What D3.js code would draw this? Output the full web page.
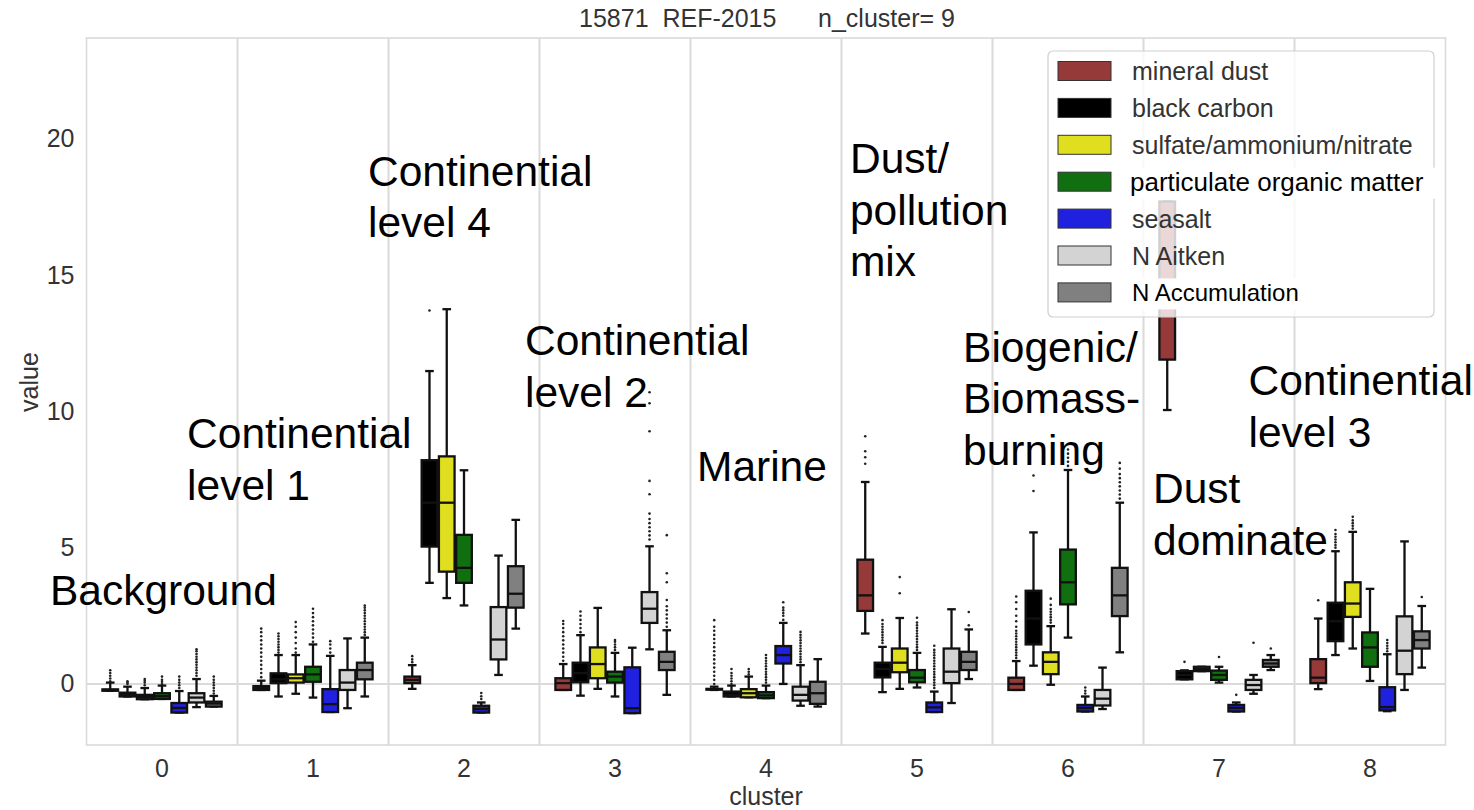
<!DOCTYPE html>
<html><head><meta charset="utf-8">
<script src="https://cdn.jsdelivr.net/npm/d3@7"></script>
<style>
html,body{margin:0;padding:0;background:#fff;}
svg{display:block;font-family:"Liberation Sans",Arial,sans-serif;}
</style></head><body>
<svg id="chart" width="1474" height="810"></svg>
<script>
// ---------------- DATA ----------------
const clusters = ["0","1","2","3","4","5","6","7","8"];
const variables = ["mineral dust","black carbon","sulfate/ammonium/nitrate","particulate organic matter","seasalt","N Aitken","N Accumulation"];
const colors = ["#963939","#000000","#dfdf20","#107010","#2020df","#d3d3d3","#808080"];
const yTicks = [0,5,10,15,20];
const titleText = "15871  REF-2015      n_cluster= 9";

// box stats per cluster: [lower whisker, q1, median, q3, upper whisker]
const mineralDust = [[-0.25,-0.25,-0.22,-0.2,0.05],[-0.22,-0.22,-0.15,-0.08,0.12],[-0.18,0.03,0.15,0.27,0.69],[-0.22,-0.22,0.03,0.21,0.73],[-0.22,-0.21,-0.19,-0.18,-0.1],[1.85,2.68,3.25,4.56,7.41],[-0.22,-0.22,0.0,0.23,0.84],[10.05,11.9,14.2,17.7,17.7],[-0.19,0.03,0.23,0.91,2.4]];
const blackCarbon = [[-0.46,-0.46,-0.4,-0.32,-0.1],[-0.46,0.03,0.17,0.39,1.06],[3.71,5.04,6.65,8.21,11.48],[-0.43,0.06,0.4,0.78,1.79],[-0.46,-0.46,-0.4,-0.28,-0.06],[-0.3,0.24,0.55,0.78,1.36],[0.67,1.45,2.4,3.42,5.56],[0.17,0.17,0.33,0.47,0.5],[1.06,1.57,2.3,2.98,4.87]];
const sulfate = [[-0.56,-0.56,-0.48,-0.4,-0.15],[-0.36,0.05,0.21,0.35,1.06],[3.15,4.12,6.65,8.35,13.75],[-0.18,0.21,0.73,1.34,2.79],[-0.49,-0.49,-0.34,-0.19,0.27],[-0.18,0.43,0.78,1.3,2.42],[-0.03,0.36,0.81,1.16,2.12],[0.47,0.47,0.55,0.63,0.63],[1.3,2.46,2.95,3.73,5.58]];
const organic = [[-0.55,-0.55,-0.45,-0.34,-0.06],[-0.5,0.08,0.35,0.63,1.45],[2.88,3.71,4.26,5.47,7.84],[-0.46,0.05,0.27,0.45,1.14],[-0.52,-0.52,-0.42,-0.3,-0.06],[-0.13,0.06,0.23,0.51,1.14],[1.7,2.92,3.73,4.93,7.85],[0.05,0.15,0.33,0.49,0.63],[0.11,0.63,1.34,1.89,3.49]];
const seasalt = [[-1.05,-1.05,-0.88,-0.7,-0.26],[-1.03,-1.03,-0.74,-0.19,1.03],[-1.05,-1.05,-0.92,-0.8,-0.68],[-1.07,-1.07,-0.89,0.61,1.33],[0.0,0.75,1.06,1.39,2.24],[-1.03,-1.03,-0.86,-0.68,-0.28],[-1.01,-1.01,-0.88,-0.77,-0.46],[-1.01,-1.01,-0.88,-0.77,-0.68],[-1.0,-0.97,-0.85,-0.12,1.09]];
const nAitken = [[-0.85,-0.68,-0.5,-0.34,0.18],[-0.89,-0.22,0.05,0.51,1.67],[0.33,0.9,1.63,2.82,4.71],[1.27,2.24,2.76,3.37,5.05],[-0.8,-0.61,-0.4,-0.1,0.69],[-0.7,0.03,0.45,1.3,2.74],[-0.92,-0.79,-0.54,-0.22,0.6],[-0.36,-0.22,-0.04,0.15,0.33],[-0.22,0.36,1.22,2.48,5.23]];
const nAccum = [[-0.83,-0.83,-0.72,-0.65,-0.44],[-0.46,0.17,0.51,0.78,1.7],[2.03,2.8,3.31,4.32,6.02],[-0.4,0.51,0.81,1.18,1.97],[-0.83,-0.73,-0.34,0.08,0.91],[0.18,0.51,0.81,1.18,2.0],[1.16,2.49,3.25,4.26,6.65],[0.51,0.63,0.75,0.88,1.06],[0.6,1.3,1.61,1.93,2.86]];

// outliers per cluster
const mineralDustOut = [[0.1,0.2,0.3,0.4,0.5],[0.25,0.4,0.55,0.7,0.85,1.0,1.15,1.3,1.45,1.6,1.75,1.9,2.03],[0.8,0.9,1.02],[0.85,1.0,1.15,1.3,1.45,1.6,1.75,1.9,2.05,2.2,2.31],[0.0,0.15,0.3,0.45,0.6,0.75,0.9,1.05,1.2,1.35,1.5,1.65,1.8,1.95,2.1,2.34],[8.08,8.32,8.54,9.09],[0.95,1.05,1.15,1.25,1.35,1.45,1.55,1.65,1.75,1.85,1.95,2.1,2.3,2.5,2.75,3.0,3.21],[],[3.07]];
const blackCarbonOut = [[0.0,0.05,0.1],[1.15,1.25,1.35,1.45,1.55,1.65,1.75,1.85],[13.7],[1.9,2.05,2.2,2.35,2.5,2.66],[0.0,0.1,0.2,0.3,0.4,0.55],[1.5,1.6,1.7,1.8,1.9,2.0,2.1,2.2,2.34],[7.08,7.65],[0.81],[5.0,5.1,5.2,5.3,5.4,5.5,5.65]];
const sulfateOut = [[-0.05,0.05,0.12,0.18],[1.15,1.3,1.5,1.7,1.9,2.1,2.27],[],[],[0.35,0.45,0.55],[3.33,3.92],[2.25,2.35,2.45,2.55,2.65,2.75,2.9,3.13],[],[5.7,5.8,5.9,6.0,6.13]];
const organicOut = [[0.0,0.08,0.15,0.27],[1.55,1.7,1.85,2.0,2.15,2.3,2.45,2.6,2.76],[],[1.25,1.35,1.45,1.55,1.61],[0.05,0.15,0.25,0.35,0.45,0.55,0.65,0.75,0.85,0.95,1.06],[1.25,1.35,1.45,1.55,1.65,1.75,1.85,1.95,2.05,2.15,2.25,2.43],[8.0,8.15,8.3,8.45,8.6],[0.99],[]];
const seasaltOut = [[-0.15,-0.05,0.05,0.15,0.27],[1.15,1.3,1.45,1.57],[-0.55,-0.45,-0.33],[],[2.35,2.5,2.6,2.7,2.8,3.0],[-0.15,-0.05,0.05,0.15,0.25,0.35,0.45,0.55,0.65,0.75,0.85,0.95,1.05,1.15,1.25,1.4],[-0.35,-0.25,-0.13],[-0.4],[1.2,1.3,1.4,1.5,1.61]];
const nAitkenOut = [[0.3,0.4,0.5,0.6,0.7,0.8,0.9,1.0,1.1,1.2,1.27],[],[],[5.3,5.45,5.6,5.75,5.9,6.05,6.25,6.96,7.45,9.27,10.3,10.7],[0.8,0.9,1.0,1.1,1.2,1.3,1.4,1.5,1.6,1.7,1.8,1.91],[],[],[1.51],[]];
const nAccumOut = [[-0.35,-0.25,-0.15,-0.05,0.05,0.15,0.27],[1.8,1.9,2.0,2.1,2.2,2.3,2.4,2.5,2.6,2.7,2.8,2.88],[],[2.1,2.25,2.4,2.55,2.7,2.85,3.08,3.73,4.06,5.46],[],[2.15,2.64],[6.8,6.95,7.1,7.25,7.4,7.55,7.7,7.9,8.11],[1.3],[3.19]];

const annotations = [["Background"],["Continential","level 1"],["Continential","level 4"],["Continential","level 2"],["Marine"],["Dust/","pollution","mix"],["Biogenic/","Biomass-","burning"],["Dust","dominate"],["Continential","level 3"]];

// ---------------- LAYOUT ----------------
const stats = [mineralDust, blackCarbon, sulfate, organic, seasalt, nAitken, nAccum];
const outs = [mineralDustOut, blackCarbonOut, sulfateOut, organicOut, seasaltOut, nAitkenOut, nAccumOut];
// annotation anchors in data units (cluster offset from cluster 0 center, baseline value)
const annotPos = [[-0.742,2.9],[0.166,8.66],[1.364,18.28],[2.404,12.07],[3.543,7.45],[4.556,18.75],[5.305,11.82],[6.563,6.64],[7.195,10.6]];

const plot = {left:86.5, right:1445.5, top:38, bottom:745};
const svg = d3.select("#chart");
const x = d3.scaleBand().domain(clusters).range([plot.left, plot.right]).padding(0);
const bw = x.bandwidth();
const xi = d3.scaleBand().domain(variables).range([0.1*bw, 0.9*bw]).padding(0);
const y = d3.scaleLinear().domain([-2.24, 23.7]).range([plot.bottom, plot.top]);
const xc = v => x("0") + bw/2 + v*bw; // continuous cluster position

const gridC = "#dadada";
// frame
svg.append("rect").attr("x",plot.left).attr("y",plot.top)
  .attr("width",plot.right-plot.left).attr("height",plot.bottom-plot.top)
  .attr("fill","none").attr("stroke",gridC).attr("stroke-width",1.6);
// vertical separators
svg.append("g").selectAll("line").data(clusters.slice(1)).join("line")
  .attr("x1",d=>x(d)).attr("x2",d=>x(d)).attr("y1",plot.top).attr("y2",plot.bottom)
  .attr("stroke",gridC).attr("stroke-width",2);
// zero line
svg.append("line").attr("x1",plot.left).attr("x2",plot.right).attr("y1",y(0)).attr("y2",y(0))
  .attr("stroke",gridC).attr("stroke-width",2);

// axes
const yAxis = svg.append("g").attr("transform",`translate(${plot.left},0)`)
  .call(d3.axisLeft(y).tickValues(yTicks).tickSize(0).tickPadding(12));
const xAxis = svg.append("g").attr("transform",`translate(0,${plot.bottom})`)
  .call(d3.axisBottom(x).tickSize(0).tickPadding(14));
[yAxis,xAxis].forEach(a=>{
  a.select(".domain").remove();
  a.selectAll("text").attr("font-size",25).attr("fill","#333").attr("font-family","Liberation Sans, Arial, sans-serif");
});

// axis labels & title
svg.append("text").attr("transform","translate(38,382) rotate(-90)").attr("text-anchor","middle")
  .attr("font-size",25).attr("fill","#333").text("value");
svg.append("text").attr("x",(plot.left+plot.right)/2).attr("y",805).attr("text-anchor","middle")
  .attr("font-size",25).attr("fill","#333").text("cluster");
svg.append("text").attr("x",(plot.left+plot.right)/2+1).attr("y",27).attr("text-anchor","middle")
  .style("white-space","pre").attr("font-size",25).attr("fill","#333").text(titleText);

// boxes
const edge = "#111", lw = 2.3;
const boxes = svg.append("g");
variables.forEach((v, vi) => {
  clusters.forEach((c, ci) => {
    const [lo,q1,med,q3,hi] = stats[vi][ci];
    const x0 = x(c) + xi(v), w = xi.bandwidth(), cx = x0 + w/2;
    const g = boxes.append("g");
    g.append("line").attr("x1",cx).attr("x2",cx).attr("y1",y(hi)).attr("y2",y(q3)).attr("stroke",edge).attr("stroke-width",lw);
    g.append("line").attr("x1",cx).attr("x2",cx).attr("y1",y(q1)).attr("y2",y(lo)).attr("stroke",edge).attr("stroke-width",lw);
    [lo,hi].forEach(val => g.append("line").attr("x1",cx-w/4).attr("x2",cx+w/4).attr("y1",y(val)).attr("y2",y(val)).attr("stroke",edge).attr("stroke-width",lw));
    g.append("rect").attr("x",x0+0.8).attr("width",w-1.6).attr("y",y(q3)).attr("height",Math.max(0.5,y(q1)-y(q3)))
      .attr("fill",colors[vi]).attr("stroke",edge).attr("stroke-width",lw);
    g.append("line").attr("x1",x0+0.8).attr("x2",x0+w-0.8).attr("y1",y(med)).attr("y2",y(med)).attr("stroke",edge).attr("stroke-width",lw);
    g.selectAll("circle").data(outs[vi][ci]).join("circle")
      .attr("cx",cx).attr("cy",d=>y(d)).attr("r",1.3).attr("fill","#222");
  });
});

// annotations
const ann = svg.append("g").attr("font-size",42.5).attr("fill","#000");
annotations.forEach((lines,i)=>{
  const t = ann.append("text").attr("x",xc(annotPos[i][0])).attr("y",y(annotPos[i][1]));
  lines.forEach((l,j)=>t.append("tspan").attr("x",xc(annotPos[i][0])).attr("dy",j?51.7:0).text(l));
});

// legend
const lg = svg.append("g").attr("transform","translate(1048,51)");
lg.append("rect").attr("width",386).attr("height",266).attr("rx",5)
  .attr("fill","#fff").attr("fill-opacity",0.8).attr("stroke","#cfcfcf").attr("stroke-width",1.2);
variables.forEach((v,i)=>{
  const cy = 20 + i*36.9;
  const special = (i===3||i===6);
  if(special){
    lg.append("rect").attr("x",79).attr("y",cy-14).attr("width",i===3?316:180).attr("height",31).attr("fill","#fff");
  }
  lg.append("rect").attr("x",10).attr("y",cy-9.5).attr("width",53).attr("height",19)
    .attr("fill",colors[i]).attr("stroke","#333").attr("stroke-width",1);
  lg.append("text").attr("x",i===3?82:84).attr("y",cy+9).attr("font-size",i===3?26:(i===6?24:25))
    .attr("fill",special?"#000":"#333").text(v);
});
</script>
</body></html>
